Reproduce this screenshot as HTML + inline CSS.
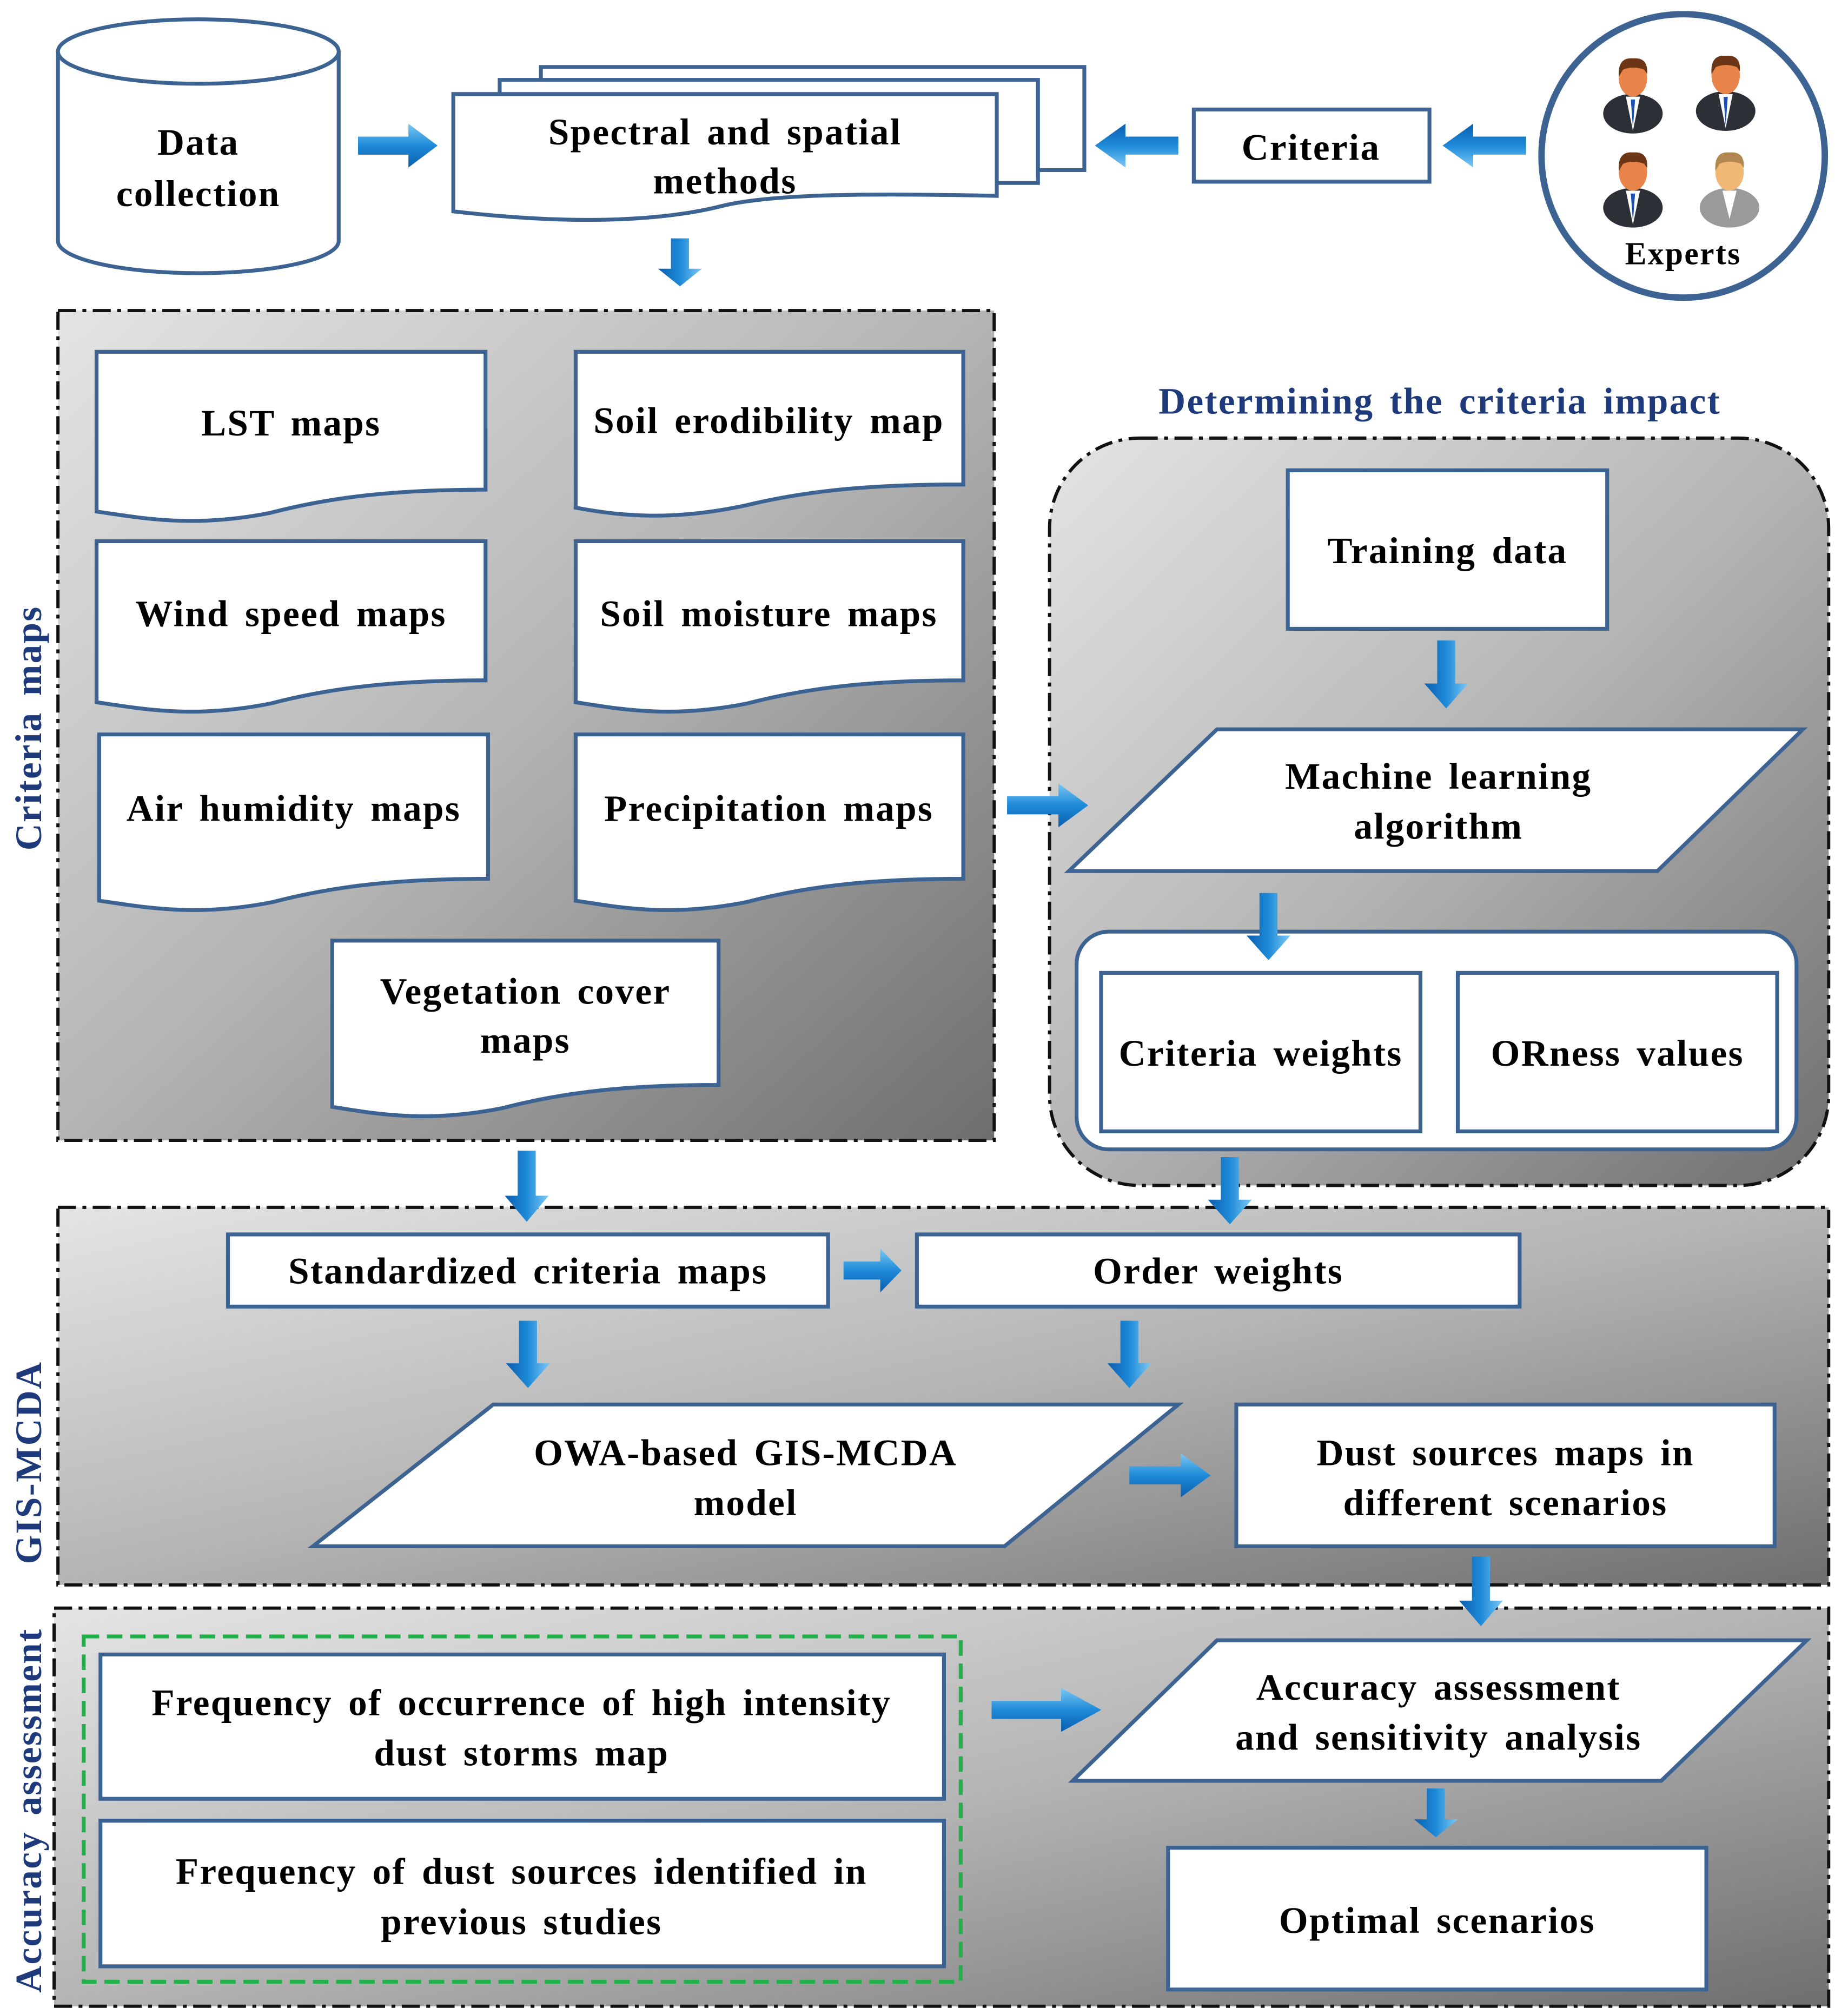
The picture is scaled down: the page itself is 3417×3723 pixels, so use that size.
<!DOCTYPE html>
<html><head><meta charset="utf-8"><style>html,body{margin:0;padding:0;background:#fff}svg{display:block}</style></head>
<body>
<svg width="3417" height="3723" viewBox="0 0 1435 1563" preserveAspectRatio="none" xmlns="http://www.w3.org/2000/svg" font-family="'Liberation Serif', serif" font-weight="bold" letter-spacing="1" word-spacing="4">
<defs>
<linearGradient id="bg" x1="0" y1="0" x2="1" y2="1"><stop offset="0" stop-color="#e4e4e4"/><stop offset="0.5" stop-color="#b4b4b4"/><stop offset="1" stop-color="#6e6e6e"/></linearGradient>
<linearGradient id="ag" x1="0" y1="0" x2="0" y2="1"><stop offset="0" stop-color="#7cc8f4"/><stop offset="0.5" stop-color="#1e8ad8"/><stop offset="1" stop-color="#0b5fae"/></linearGradient>
<path id="ar" d="M0,-7 H38 V-17 L60,0 L38,17 V7 H0 Z" fill="url(#ag)"/>
<g id="person"><ellipse cx="0" cy="22" rx="21" ry="14" fill="#2c2f36"/><path d="M-5,10 L0,34 L5,10 Z" fill="#fff"/><path d="M-1.5,12 L0,32 L1.5,12Z" fill="#1a4fb0"/><ellipse cx="0" cy="-3" rx="10" ry="13" fill="#e8844a"/><path d="M-10,-4 Q-11,-18 0,-17 Q11,-18 10,-6 L8,-9 Q0,-12 -7,-9 Z" fill="#6b3516"/></g>
</defs>
<g stroke="#3d6393" stroke-width="3" fill="#fff">
<path d="M45,40 V187 A109,25 0 0 0 263,187 V40" />
<ellipse cx="154" cy="40" rx="109" ry="25"/>
<rect x="420" y="52" width="422" height="80"/>
<rect x="388" y="62" width="418" height="80"/>
<path d="M352,73 H774 V152 C680,150 600,150 560,160 C500,175 420,172 352,164 Z"/>
<rect x="927" y="85" width="183" height="56"/>
<circle cx="1307" cy="121" r="110" stroke-width="5"/>
</g>
<text font-size="29" text-anchor="middle"><tspan x="154" y="120">Data</tspan><tspan x="154" y="160">collection</tspan></text>
<text font-size="29" text-anchor="middle"><tspan x="563" y="112">Spectral and spatial</tspan><tspan x="563" y="150">methods</tspan></text>
<text font-size="29" text-anchor="middle" x="1018" y="124">Criteria</text>
<use href="#person" transform="translate(1268,64) scale(1.1)"/><use href="#person" transform="translate(1340,62) scale(1.1)"/><use href="#person" transform="translate(1268,137) scale(1.1)"/>
<g transform="translate(1343,137) scale(1.1)"><ellipse cx="0" cy="22" rx="21" ry="14" fill="#9a9a9a"/><path d="M-5,10 L0,30 L5,10Z" fill="#fff"/><ellipse cx="0" cy="-3" rx="10" ry="13" fill="#f0b874"/><path d="M-10,-4 Q-11,-18 0,-17 Q11,-18 10,-6 L8,-9 Q0,-12 -7,-9 Z" fill="#b08850"/></g>
<text font-size="25" text-anchor="middle" x="1307" y="205">Experts</text>

<rect x="45" y="241" width="727" height="644" fill="url(#bg)" stroke="#111" stroke-width="2.5" stroke-dasharray="14,5,3,5"/>
<g stroke="#3d6393" stroke-width="3" fill="#fff">
<path d="M75,273 H377 V380 C310,380 260,385 210,398 C150,410 110,402 75,397 Z"/>
<path d="M447,273 H748 V376 C680,376 630,380 580,392 C520,405 480,400 447,394 Z"/>
<path d="M75,420 H377 V528 C310,528 260,533 210,546 C150,558 110,550 75,545 Z"/>
<path d="M447,420 H748 V528 C680,528 630,533 580,546 C520,558 480,550 447,545 Z"/>
<path d="M77,570 H379 V682 C312,682 262,687 212,700 C152,712 112,704 77,699 Z"/>
<path d="M447,570 H748 V682 C680,682 630,687 580,700 C520,712 480,704 447,699 Z"/>
<path d="M258,730 H558 V842 C490,842 440,847 390,860 C330,872 290,864 258,859 Z"/>
</g>
<g font-size="29" text-anchor="middle">
<text x="226" y="338">LST  maps</text>
<text x="597" y="336">Soil erodibility map</text>
<text x="226" y="486">Wind speed maps</text>
<text x="597" y="486">Soil moisture maps</text>
<text x="228" y="637">Air humidity maps</text>
<text x="597" y="637">Precipitation maps</text>
<text x="408" y="779">Vegetation cover</text><text x="408" y="817">maps</text>
</g>
<text font-size="29" fill="#1f3a7a" text-anchor="middle" transform="translate(32,565) rotate(-90)">Criteria maps</text>

<text font-size="29" fill="#1f3a7a" text-anchor="middle" x="1118" y="321">Determining the criteria impact</text>
<rect x="815" y="340" width="605" height="580" rx="70" fill="url(#bg)" stroke="#111" stroke-width="2.5" stroke-dasharray="14,5,3,5"/>
<g stroke="#3d6393" stroke-width="3" fill="#fff">
<rect x="1000" y="365" width="248" height="123"/>
<path d="M830,676 L945,566 H1400 L1287,676 Z"/>
<rect x="836" y="723" width="559" height="169" rx="25"/>
<rect x="855" y="755" width="248" height="123"/>
<rect x="1132" y="755" width="248" height="123"/>
</g>
<g font-size="29" text-anchor="middle">
<text x="1124" y="437">Training data</text>
<text x="1117" y="612">Machine learning</text><text x="1117" y="651">algorithm</text>
<text x="979" y="827">Criteria weights</text>
<text x="1256" y="827">ORness values</text>
</g>

<rect x="45" y="937" width="1375" height="293" fill="url(#bg)" stroke="#111" stroke-width="2.5" stroke-dasharray="14,5,3,5"/>
<g stroke="#3d6393" stroke-width="3" fill="#fff">
<rect x="177" y="958" width="466" height="56"/>
<rect x="712" y="958" width="468" height="56"/>
<path d="M243,1200 L383,1090 H915 L780,1200 Z"/>
<rect x="960" y="1090" width="418" height="110"/>
</g>
<g font-size="29" text-anchor="middle">
<text x="410" y="996">Standardized criteria maps</text>
<text x="946" y="996">Order weights</text>
<text x="579" y="1137">OWA-based GIS-MCDA</text><text x="579" y="1176">model</text>
<text x="1169" y="1137">Dust sources maps in</text><text x="1169" y="1176">different scenarios</text>
</g>
<text font-size="29" fill="#1f3a7a" text-anchor="middle" transform="translate(32,1135) rotate(-90)">GIS-MCDA</text>

<rect x="42" y="1248" width="1378" height="309" fill="url(#bg)" stroke="#111" stroke-width="2.5" stroke-dasharray="14,5,3,5"/>
<rect x="65" y="1270" width="681" height="268" fill="none" stroke="#22b04a" stroke-width="3" stroke-dasharray="12,6"/>
<g stroke="#3d6393" stroke-width="3" fill="#fff">
<rect x="78" y="1284" width="655" height="112"/>
<rect x="78" y="1413" width="655" height="113"/>
<path d="M833,1382 L945,1273 H1403 L1290,1382 Z"/>
<rect x="907" y="1434" width="418" height="110"/>
</g>
<g font-size="29" text-anchor="middle">
<text x="405" y="1331">Frequency of occurrence of high intensity</text><text x="405" y="1370">dust storms map</text>
<text x="405" y="1462">Frequency of dust sources identified in</text><text x="405" y="1501">previous studies</text>
<text x="1117" y="1319">Accuracy assessment</text><text x="1117" y="1358">and sensitivity analysis</text>
<text x="1116" y="1500">Optimal scenarios</text>
</g>
<text font-size="29" fill="#1f3a7a" text-anchor="middle" transform="translate(32,1405) rotate(-90)">Accuracy assessment</text>

<use href="#ar" transform="translate(278,113) scale(1.03,1)"/>
<use href="#ar" transform="translate(915,113) rotate(180) scale(1.08,1)"/>
<use href="#ar" transform="translate(1185,113) rotate(180) scale(1.08,1)"/>
<use href="#ar" transform="translate(528,185) rotate(90) scale(0.62,1)"/>
<use href="#ar" transform="translate(1123,497) rotate(90) scale(0.88,1)"/>
<use href="#ar" transform="translate(985,693) rotate(90) scale(0.87,1)"/>
<use href="#ar" transform="translate(782,625) scale(1.05,1)"/>
<use href="#ar" transform="translate(409,893) rotate(90) scale(0.92,1)"/>
<use href="#ar" transform="translate(955,898) rotate(90) scale(0.87,1)"/>
<use href="#ar" transform="translate(655,986) scale(0.75,1)"/>
<use href="#ar" transform="translate(410,1025) rotate(90) scale(0.87,1)"/>
<use href="#ar" transform="translate(877,1025) rotate(90) scale(0.87,1)"/>
<use href="#ar" transform="translate(877,1145) scale(1.05,1)"/>
<use href="#ar" transform="translate(1150,1208) rotate(90) scale(0.9,1)"/>
<use href="#ar" transform="translate(770,1327) scale(1.42,1)"/>
<use href="#ar" transform="translate(1115,1388) rotate(90) scale(0.63,1)"/>
</svg>
</body></html>
